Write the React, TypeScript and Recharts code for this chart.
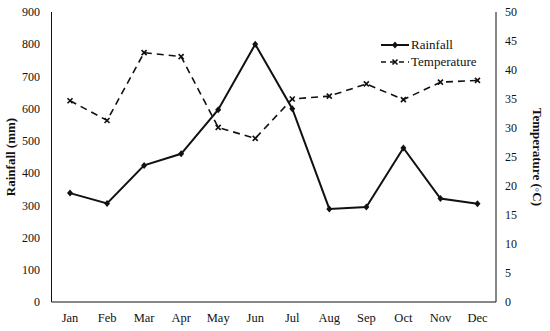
import { LineChart, Line, XAxis, YAxis, Legend } from 'recharts';

const months = ['Jan', 'Feb', 'Mar', 'Apr', 'May', 'Jun', 'Jul', 'Aug', 'Sep', 'Oct', 'Nov', 'Dec'];
const rainfall = [338, 306, 424, 460, 597, 800, 600, 289, 295, 478, 321, 305];
const temperature = [34.7, 31.3, 43.0, 42.3, 30.1, 28.2, 35.0, 35.5, 37.6, 34.9, 37.9, 38.2];
const rainTicks = [0, 100, 200, 300, 400, 500, 600, 700, 800, 900];
const tempTicks = [0, 5, 10, 15, 20, 25, 30, 35, 40, 45, 50];

// months sit in the middle of each slot, so slot i spans [i, i+1]
const data = months.map((m, i) => ({
  pos: i + 0.5,
  month: m,
  rainfall: rainfall[i],
  temperature: temperature[i],
}));
const monthTicks = months.map((_, i) => i + 0.5);
const boundaryTicks = months.slice(1).map((_, i) => i + 1);

const FONT = '"Liberation Serif", "Times New Roman", serif';
const INK = '#111';

function Diamond(props: any) {
  const { cx, cy } = props;
  if (cx == null || cy == null) return null;
  return <path d={`M${cx},${cy - 3.5}L${cx + 3},${cy}L${cx},${cy + 3.5}L${cx - 3},${cy}Z`} fill={INK} />;
}

function Cross(props: any) {
  const { cx, cy } = props;
  if (cx == null || cy == null) return null;
  const r = 2.5;
  return (
    <path
      d={`M${cx - r},${cy - r}L${cx + r},${cy + r}M${cx - r},${cy + r}L${cx + r},${cy - r}`}
      stroke={INK}
      strokeWidth={1.6}
      fill="none"
    />
  );
}

function LegendBox() {
  const rows = [
    { name: 'Rainfall', dash: undefined, mark: Diamond },
    { name: 'Temperature', dash: '5 4', mark: Cross },
  ];
  return (
    <div style={{ fontFamily: FONT, fontSize: 13, color: INK }}>
      {rows.map(r => {
        const Mark = r.mark;
        return (
          <div key={r.name} style={{ display: 'flex', alignItems: 'center', height: 17 }}>
            <svg width={29} height={12} style={{ marginRight: 1 }}>
              <line x1={0} y1={6} x2={28} y2={6} stroke={INK} strokeWidth={r.dash ? 1.6 : 2} strokeDasharray={r.dash} />
              <Mark cx={14} cy={6} />
            </svg>
            <span>{r.name}</span>
          </div>
        );
      })}
    </div>
  );
}

export default function App() {
  const tickStyle = { fontFamily: FONT, fontSize: 12, fill: INK };
  return (
    <div style={{ position: 'absolute', left: 0, top: 0, background: '#fff' }}>
      <LineChart width={550} height={331} data={data} margin={{ top: 12, right: 0, bottom: 0, left: 0 }}>
        <XAxis
          xAxisId="m"
          type="number"
          dataKey="pos"
          domain={[0, 12]}
          ticks={monthTicks}
          tickFormatter={(v: number) => months[Math.floor(v)]}
          tickLine={false}
          tickSize={6}
          tickMargin={5}
          height={29}
          axisLine={{ stroke: INK }}
          tick={{ ...tickStyle, fontSize: 12.5 }}
          interval={0}
        />
        <XAxis
          xAxisId="b"
          type="number"
          dataKey="pos"
          domain={[0, 12]}
          ticks={boundaryTicks}
          mirror
          tick={false}
          tickSize={4}
          axisLine={false}
          tickLine={{ stroke: INK }}
          interval={0}
        />
        <XAxis xAxisId="top" orientation="top" type="number" dataKey="pos" domain={[0, 12]} tick={false} tickLine={false} height={0} axisLine={{ stroke: INK }} />
        <YAxis
          yAxisId="rain"
          domain={[0, 900]}
          ticks={rainTicks}
          width={51.5}
          tickLine={false}
          tickMargin={5.5}
          axisLine={{ stroke: INK }}
          tick={tickStyle}
          label={{ value: 'Rainfall (mm)', angle: -90, position: 'insideLeft', offset: 10, style: { textAnchor: 'middle', fontFamily: FONT, fontSize: 13, fontWeight: 'bold', fill: INK } }}
        />
        <YAxis
          yAxisId="temp"
          orientation="right"
          domain={[0, 50]}
          ticks={tempTicks}
          width={54}
          tickLine={false}
          tickMargin={3}
          axisLine={{ stroke: INK }}
          tick={tickStyle}
          label={{ value: 'Temperature (◦C)', angle: 90, position: 'insideRight', offset: 12, style: { textAnchor: 'middle', fontFamily: FONT, fontSize: 13, fontWeight: 'bold', fill: INK } }}
        />
        <Legend content={<LegendBox />} layout="vertical" verticalAlign="middle" align="center" wrapperStyle={{ left: 381, top: 36, width: 110 }} />
        <Line
          xAxisId="m"
          yAxisId="rain"
          dataKey="rainfall"
          name="Rainfall"
          stroke={INK}
          strokeWidth={2}
          dot={<Diamond />}
          activeDot={false}
          isAnimationActive={false}
        />
        <Line
          xAxisId="m"
          yAxisId="temp"
          dataKey="temperature"
          name="Temperature"
          stroke={INK}
          strokeWidth={1.6}
          strokeDasharray="7 5"
          dot={<Cross />}
          activeDot={false}
          isAnimationActive={false}
        />
      </LineChart>
    </div>
  );
}
